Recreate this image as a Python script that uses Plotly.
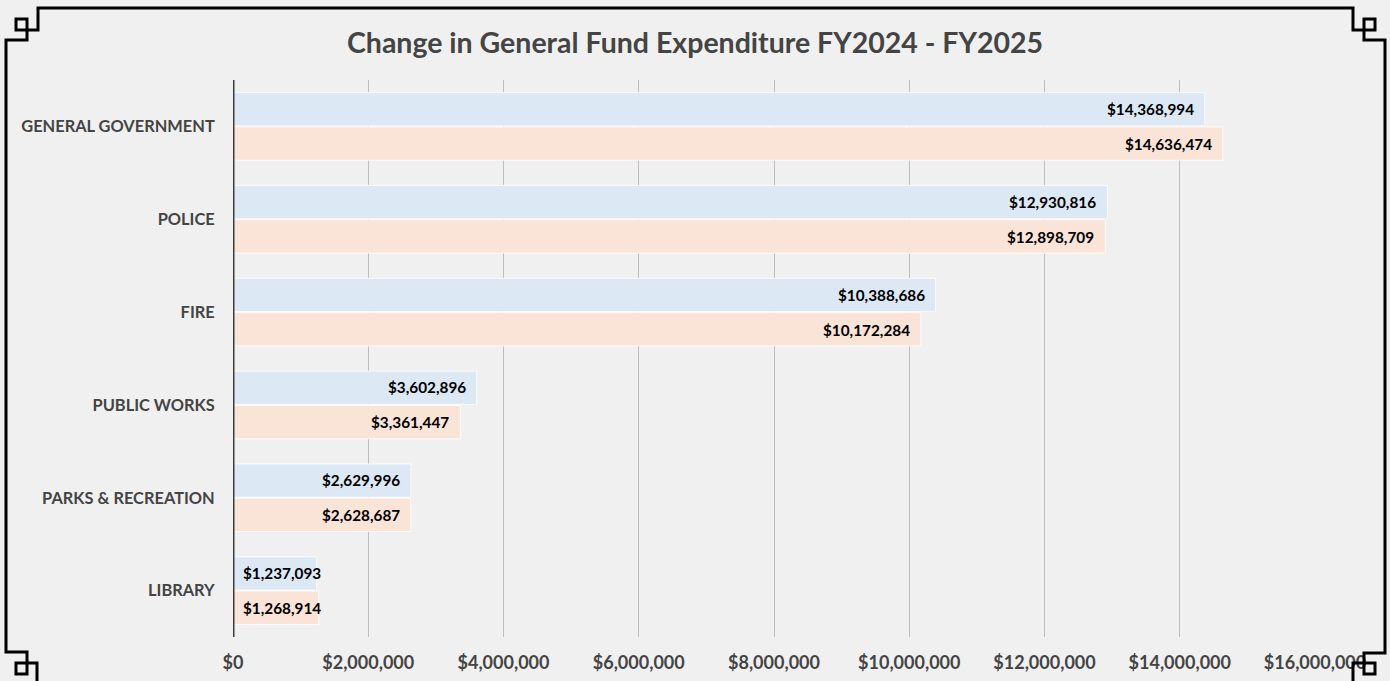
import plotly.graph_objects as go

categories = ["GENERAL GOVERNMENT", "POLICE", "FIRE", "PUBLIC WORKS", "PARKS & RECREATION", "LIBRARY"]
fy2024 = [14368994, 12930816, 10388686, 3602896, 2629996, 1237093]
fy2025 = [14636474, 12898709, 10172284, 3361447, 2628687, 1268914]
series_names = ["FY2024", "FY2025"]
tick_values = [0, 2000000, 4000000, 6000000, 8000000, 10000000, 12000000, 14000000, 16000000]
tick_labels = ["$" + format(v, ",") for v in tick_values]

W, H = 1390, 681
ML, MR, MT, MB = 233, 75, 80, 44
PW, PH = W - ML - MR, H - MT - MB

FONT = "Lato, 'Open Sans', sans-serif"
TXT = "#444444"

fig = go.Figure()
colors = ["#DDE8F5", "#FAE3D7"]
for name, vals, col in zip(series_names, [fy2024, fy2025], colors):
    fig.add_trace(go.Bar(
        y=categories, x=vals, orientation="h", name=name,
        marker=dict(color=col, line=dict(color="rgba(255,255,255,0.8)", width=1)),
        hoverinfo="x+y+name",
    ))

# data labels
annotations = []
for idx, vals in enumerate([fy2024, fy2025]):
    ysh = 17.5 if idx == 0 else -17.5
    for cat, v in zip(categories, vals):
        fits = v * PW / 16000000 > 100
        annotations.append(dict(
            x=v if fits else 0, y=cat, xref="x", yref="y",
            text="<b>$" + format(v, ",") + "</b>", showarrow=False,
            xanchor="right" if fits else "left", xshift=-9 if fits else 8,
            yshift=ysh, font=dict(family=FONT, size=15.3, color="#000000"),
        ))

fig.update_layout(
    width=W, height=H,
    margin=dict(l=ML, r=MR, t=MT, b=MB, autoexpand=False),
    paper_bgcolor="#F0F0F0", plot_bgcolor="#F0F0F0",
    showlegend=False,
    barmode="group", bargap=0.26, bargroupgap=0.03,
    title=dict(text="<b>Change in General Fund Expenditure FY2024 - FY2025</b>",
               x=0.5, xanchor="center", y=1 - 43 / H, yanchor="middle",
               font=dict(family=FONT, size=28.5, color=TXT)),
    xaxis=dict(range=[0, 16000000], tickvals=tick_values,
               ticktext=["<b>" + t + "</b>" for t in tick_labels],
               showgrid=True, gridcolor="#BDBDBD", gridwidth=1.3, zeroline=False,
               ticks="outside", ticklen=9, tickcolor="rgba(0,0,0,0)",
               tickfont=dict(family=FONT, size=18, color=TXT), showline=False),
    yaxis=dict(autorange="reversed", showgrid=False, zeroline=False,
               tickvals=categories, ticktext=["<b>" + c + "</b>" for c in categories],
               ticks="outside", ticklen=14, tickcolor="rgba(0,0,0,0)",
               tickfont=dict(family=FONT, size=16.4, color=TXT)),
    annotations=annotations,
)

# y axis line at zero
fig.add_shape(type="line", xref="x", yref="paper", x0=0, x1=0, y0=0, y1=1,
              line=dict(color="#3C3C3C", width=3), layer="above")

# decorative frame (pixel positions converted to paper)
def px(x):
    return (x - ML) / PW
def py(y):
    return (H - MB - y) / PH

frame = [(6, 40), (27, 40), (27, 30), (38, 30), (38, 8), (1353, 8), (1353, 30), (1364, 30),
         (1364, 40), (1385, 40), (1385, 653), (1364, 653), (1364, 663), (1353, 663), (1353, 700),
         (37, 700), (37, 663), (27, 663), (27, 652), (6, 652)]
path = "M " + " L ".join(f"{px(a):.5f},{py(b):.5f}" for a, b in frame) + " Z"
fig.add_shape(type="path", xref="paper", yref="paper", path=path,
              line=dict(color="#000000", width=3), fillcolor="rgba(0,0,0,0)", layer="above")
for (x0, y0) in [(16, 19), (1364, 19), (16, 663), (1364, 663)]:
    fig.add_shape(type="rect", xref="paper", yref="paper",
                  x0=px(x0), x1=px(x0 + 11), y0=py(y0), y1=py(y0 + 11),
                  line=dict(color="#000000", width=3), fillcolor="rgba(0,0,0,0)", layer="above")

fig.write_html("out.html", config={"displayModeBar": False},
               post_script="document.body.style.margin='0';document.body.style.overflow='hidden';")
